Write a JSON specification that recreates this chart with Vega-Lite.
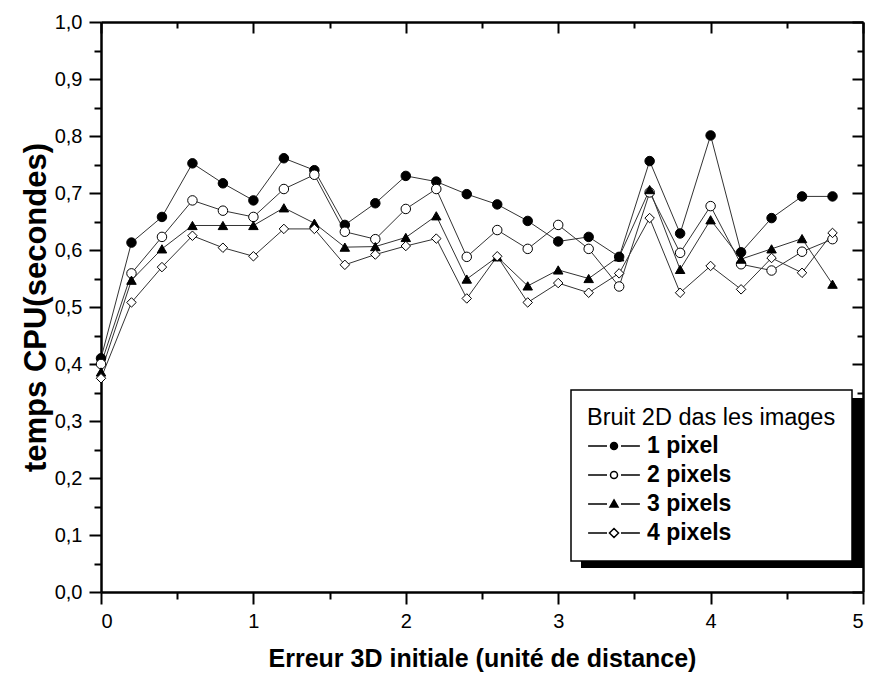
{
  "$schema": "https://vega.github.io/schema/vega-lite/v6.json",
  "width": 762,
  "height": 570,
  "autosize": {"type": "none"},
  "padding": {"left": 101, "top": 22, "right": 8, "bottom": 83},
  "background": "white",
  "config": {
    "view": {"stroke": null},
    "font": "Liberation Sans",
    "axis": {
      "grid": false,
      "domainColor": "black",
      "domainWidth": 2.5,
      "tickColor": "black",
      "tickWidth": 2,
      "labelFont": "Liberation Sans",
      "labelFontSize": 20,
      "labelColor": "black",
      "labelPadding": 7,
      "titleFont": "Liberation Sans",
      "titleFontWeight": "bold",
      "titleColor": "black"
    },
    "legend": {
      "orient": "none",
      "legendX": 470,
      "legendY": 368,
      "padding": 16,
      "fillColor": "white",
      "strokeColor": "black",
      "strokeWidth": 1.5,
      "cornerRadius": 0,
      "titleFont": "Liberation Sans",
      "titleFontSize": 23.5,
      "titleFontWeight": "normal",
      "titleColor": "black",
      "titleLimit": 400,
      "titlePadding": 5,
      "labelFont": "Liberation Sans",
      "labelFontSize": 23,
      "labelFontWeight": "bold",
      "labelColor": "black",
      "rowPadding": 5,
      "symbolSize": 49,
      "symbolOffset": 15.5,
      "labelOffset": 21.5
    }
  },
  "data": {
    "values": [
      {"x": 0.0, "y": 0.410, "series": "1 pixel"},
      {"x": 0.2, "y": 0.613, "series": "1 pixel"},
      {"x": 0.4, "y": 0.658, "series": "1 pixel"},
      {"x": 0.6, "y": 0.752, "series": "1 pixel"},
      {"x": 0.8, "y": 0.717, "series": "1 pixel"},
      {"x": 1.0, "y": 0.687, "series": "1 pixel"},
      {"x": 1.2, "y": 0.761, "series": "1 pixel"},
      {"x": 1.4, "y": 0.740, "series": "1 pixel"},
      {"x": 1.6, "y": 0.644, "series": "1 pixel"},
      {"x": 1.8, "y": 0.682, "series": "1 pixel"},
      {"x": 2.0, "y": 0.730, "series": "1 pixel"},
      {"x": 2.2, "y": 0.720, "series": "1 pixel"},
      {"x": 2.4, "y": 0.698, "series": "1 pixel"},
      {"x": 2.6, "y": 0.680, "series": "1 pixel"},
      {"x": 2.8, "y": 0.651, "series": "1 pixel"},
      {"x": 3.0, "y": 0.615, "series": "1 pixel"},
      {"x": 3.2, "y": 0.623, "series": "1 pixel"},
      {"x": 3.4, "y": 0.588, "series": "1 pixel"},
      {"x": 3.6, "y": 0.756, "series": "1 pixel"},
      {"x": 3.8, "y": 0.629, "series": "1 pixel"},
      {"x": 4.0, "y": 0.801, "series": "1 pixel"},
      {"x": 4.2, "y": 0.596, "series": "1 pixel"},
      {"x": 4.4, "y": 0.656, "series": "1 pixel"},
      {"x": 4.6, "y": 0.694, "series": "1 pixel"},
      {"x": 4.8, "y": 0.694, "series": "1 pixel"},
      {"x": 0.0, "y": 0.400, "series": "2 pixels"},
      {"x": 0.2, "y": 0.559, "series": "2 pixels"},
      {"x": 0.4, "y": 0.623, "series": "2 pixels"},
      {"x": 0.6, "y": 0.687, "series": "2 pixels"},
      {"x": 0.8, "y": 0.669, "series": "2 pixels"},
      {"x": 1.0, "y": 0.658, "series": "2 pixels"},
      {"x": 1.2, "y": 0.707, "series": "2 pixels"},
      {"x": 1.4, "y": 0.732, "series": "2 pixels"},
      {"x": 1.6, "y": 0.632, "series": "2 pixels"},
      {"x": 1.8, "y": 0.619, "series": "2 pixels"},
      {"x": 2.0, "y": 0.672, "series": "2 pixels"},
      {"x": 2.2, "y": 0.707, "series": "2 pixels"},
      {"x": 2.4, "y": 0.588, "series": "2 pixels"},
      {"x": 2.6, "y": 0.635, "series": "2 pixels"},
      {"x": 2.8, "y": 0.602, "series": "2 pixels"},
      {"x": 3.0, "y": 0.644, "series": "2 pixels"},
      {"x": 3.2, "y": 0.602, "series": "2 pixels"},
      {"x": 3.4, "y": 0.536, "series": "2 pixels"},
      {"x": 3.6, "y": 0.701, "series": "2 pixels"},
      {"x": 3.8, "y": 0.595, "series": "2 pixels"},
      {"x": 4.0, "y": 0.677, "series": "2 pixels"},
      {"x": 4.2, "y": 0.575, "series": "2 pixels"},
      {"x": 4.4, "y": 0.564, "series": "2 pixels"},
      {"x": 4.6, "y": 0.597, "series": "2 pixels"},
      {"x": 4.8, "y": 0.619, "series": "2 pixels"},
      {"x": 0.0, "y": 0.386, "series": "3 pixels"},
      {"x": 0.2, "y": 0.547, "series": "3 pixels"},
      {"x": 0.4, "y": 0.602, "series": "3 pixels"},
      {"x": 0.6, "y": 0.643, "series": "3 pixels"},
      {"x": 0.8, "y": 0.643, "series": "3 pixels"},
      {"x": 1.0, "y": 0.643, "series": "3 pixels"},
      {"x": 1.2, "y": 0.674, "series": "3 pixels"},
      {"x": 1.4, "y": 0.647, "series": "3 pixels"},
      {"x": 1.6, "y": 0.605, "series": "3 pixels"},
      {"x": 1.8, "y": 0.606, "series": "3 pixels"},
      {"x": 2.0, "y": 0.622, "series": "3 pixels"},
      {"x": 2.2, "y": 0.660, "series": "3 pixels"},
      {"x": 2.4, "y": 0.549, "series": "3 pixels"},
      {"x": 2.6, "y": 0.588, "series": "3 pixels"},
      {"x": 2.8, "y": 0.537, "series": "3 pixels"},
      {"x": 3.0, "y": 0.565, "series": "3 pixels"},
      {"x": 3.2, "y": 0.550, "series": "3 pixels"},
      {"x": 3.4, "y": 0.588, "series": "3 pixels"},
      {"x": 3.6, "y": 0.706, "series": "3 pixels"},
      {"x": 3.8, "y": 0.566, "series": "3 pixels"},
      {"x": 4.0, "y": 0.653, "series": "3 pixels"},
      {"x": 4.2, "y": 0.584, "series": "3 pixels"},
      {"x": 4.4, "y": 0.602, "series": "3 pixels"},
      {"x": 4.6, "y": 0.620, "series": "3 pixels"},
      {"x": 4.8, "y": 0.540, "series": "3 pixels"},
      {"x": 0.0, "y": 0.375, "series": "4 pixels"},
      {"x": 0.2, "y": 0.508, "series": "4 pixels"},
      {"x": 0.4, "y": 0.570, "series": "4 pixels"},
      {"x": 0.6, "y": 0.625, "series": "4 pixels"},
      {"x": 0.8, "y": 0.604, "series": "4 pixels"},
      {"x": 1.0, "y": 0.589, "series": "4 pixels"},
      {"x": 1.2, "y": 0.637, "series": "4 pixels"},
      {"x": 1.4, "y": 0.637, "series": "4 pixels"},
      {"x": 1.6, "y": 0.574, "series": "4 pixels"},
      {"x": 1.8, "y": 0.592, "series": "4 pixels"},
      {"x": 2.0, "y": 0.607, "series": "4 pixels"},
      {"x": 2.2, "y": 0.620, "series": "4 pixels"},
      {"x": 2.4, "y": 0.515, "series": "4 pixels"},
      {"x": 2.6, "y": 0.589, "series": "4 pixels"},
      {"x": 2.8, "y": 0.508, "series": "4 pixels"},
      {"x": 3.0, "y": 0.542, "series": "4 pixels"},
      {"x": 3.2, "y": 0.525, "series": "4 pixels"},
      {"x": 3.4, "y": 0.559, "series": "4 pixels"},
      {"x": 3.6, "y": 0.656, "series": "4 pixels"},
      {"x": 3.8, "y": 0.525, "series": "4 pixels"},
      {"x": 4.0, "y": 0.572, "series": "4 pixels"},
      {"x": 4.2, "y": 0.531, "series": "4 pixels"},
      {"x": 4.4, "y": 0.586, "series": "4 pixels"},
      {"x": 4.6, "y": 0.560, "series": "4 pixels"},
      {"x": 4.8, "y": 0.630, "series": "4 pixels"}
    ]
  },
  "resolve": {
    "axis": {"x": "independent", "y": "independent"},
    "scale": {"shape": "independent", "fill": "independent"},
    "legend": {"shape": "independent", "fill": "independent"}
  },
  "layer": [
    {
      "mark": {"type": "rect", "color": "black"},
      "encoding": {
        "x": {"datum": 3.15, "type": "quantitative", "axis": null},
        "x2": {"datum": 4.995},
        "y": {"datum": 0.042, "type": "quantitative", "axis": null},
        "y2": {"datum": 0.34}
      }
    },
    {
      "mark": {"type": "line", "color": "#333333", "strokeWidth": 1},
      "encoding": {
        "x": {
          "field": "x", "type": "quantitative",
          "scale": {"domain": [0, 5], "nice": false, "zero": false},
          "axis": {
            "orient": "bottom",
            "title": "Erreur 3D initiale (unité de distance)",
            "titleFontSize": 25,
            "titlePadding": 15,
            "values": [0, 0.5, 1, 1.5, 2, 2.5, 3, 3.5, 4, 4.5, 5],
            "tickSize": {"condition": {"test": "datum.value % 1 === 0", "value": 12}, "value": 7},
            "labelExpr": "datum.value % 1 === 0 ? format(datum.value, 'd') : ''",
            "labelOverlap": false
          }
        },
        "y": {
          "field": "y", "type": "quantitative",
          "scale": {"domain": [0, 1], "nice": false, "zero": false},
          "axis": {
            "orient": "left",
            "title": "temps CPU(secondes)",
            "titleFontSize": 31,
            "titlePadding": 2,
            "values": [0, 0.05, 0.1, 0.15, 0.2, 0.25, 0.3, 0.35, 0.4, 0.45, 0.5, 0.55, 0.6, 0.65, 0.7, 0.75, 0.8, 0.85, 0.9, 0.95, 1],
            "tickSize": {"condition": {"test": "abs(datum.value * 10 - round(datum.value * 10)) < 0.001", "value": 12}, "value": 7},
            "labelExpr": "abs(datum.value * 10 - round(datum.value * 10)) < 0.001 ? replace(format(datum.value, '.1f'), '.', ',') : ''",
            "labelOverlap": false
          }
        },
        "detail": {"field": "series", "type": "nominal"}
      }
    },
    {
      "mark": {"type": "point", "filled": true, "stroke": "black", "strokeWidth": 1, "opacity": 1, "size": 90},
      "encoding": {
        "x": {
          "field": "x", "type": "quantitative",
          "axis": {
            "orient": "top",
            "title": null,
            "labels": false,
            "values": [0, 0.5, 1, 1.5, 2, 2.5, 3, 3.5, 4, 4.5, 5],
            "tickSize": {"condition": {"test": "datum.value % 1 === 0", "value": -11}, "value": -6}
          }
        },
        "y": {
          "field": "y", "type": "quantitative",
          "axis": {
            "orient": "right",
            "title": null,
            "labels": false,
            "values": [0, 0.05, 0.1, 0.15, 0.2, 0.25, 0.3, 0.35, 0.4, 0.45, 0.5, 0.55, 0.6, 0.65, 0.7, 0.75, 0.8, 0.85, 0.9, 0.95, 1],
            "tickSize": {"condition": {"test": "abs(datum.value * 10 - round(datum.value * 10)) < 0.001", "value": -11}, "value": -6}
          }
        },
        "shape": {
          "field": "series", "type": "nominal",
          "scale": {"domain": ["1 pixel", "2 pixels", "3 pixels", "4 pixels"], "range": ["circle", "circle", "triangle-up", "diamond"]},
          "legend": null
        },
        "fill": {
          "field": "series", "type": "nominal",
          "scale": {"domain": ["1 pixel", "2 pixels", "3 pixels", "4 pixels"], "range": ["black", "white", "black", "white"]},
          "legend": null
        }
      }
    },
    {
      "transform": [{"filter": "false"}],
      "mark": {"type": "point", "filled": true, "stroke": "black", "strokeWidth": 1, "opacity": 1, "size": 49},
      "encoding": {
        "shape": {
          "field": "series", "type": "nominal",
          "scale": {
            "domain": ["1 pixel", "2 pixels", "3 pixels", "4 pixels"],
            "range": [
              "M-7.4,0L-2,0M2,0L7.4,0M1,0A1,1,0,1,1,-1,0A1,1,0,1,1,1,0Z",
              "M-7.4,0L-2,0M2,0L7.4,0M1,0A1,1,0,1,1,-1,0A1,1,0,1,1,1,0Z",
              "M-7.4,0L-2,0M2,0L7.4,0M0,-1.15L1.15,0.85L-1.15,0.85Z",
              "M-7.4,0L-2,0M2,0L7.4,0M0,-1.3L1.3,0L0,1.3L-1.3,0Z"
            ]
          },
          "legend": {"title": "Bruit 2D das les images"}
        },
        "fill": {
          "field": "series", "type": "nominal",
          "scale": {"domain": ["1 pixel", "2 pixels", "3 pixels", "4 pixels"], "range": ["black", "white", "black", "white"]},
          "legend": {"title": "Bruit 2D das les images"}
        }
      }
    }
  ]
}
